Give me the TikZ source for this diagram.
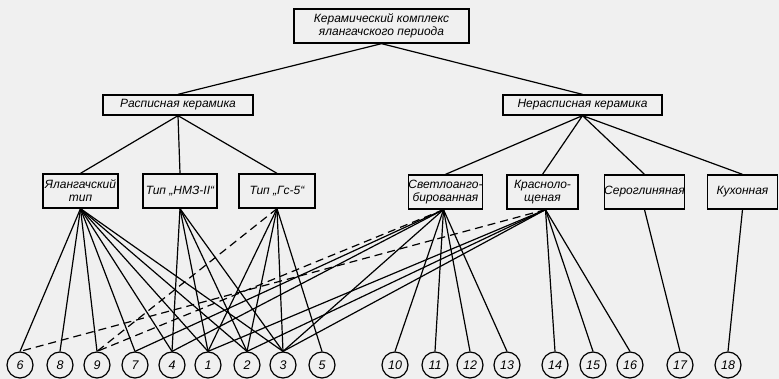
\documentclass[tikz,border=0pt]{standalone}
\usepackage{fontspec}
\setmainfont{Liberation Sans}
\usetikzlibrary{calc}
\tikzset{box/.style={draw, line width=1.3pt, inner sep=0pt, minimum height=34pt, align=center,
		font=\fontsize{12}{13}\selectfont\itshape},
	num/.style={draw, circle, line width=1.2pt, minimum size=26pt, inner sep=0pt,
		font=\fontsize{12.5}{13}\selectfont\itshape},
	link/.style={line width=1.2pt},
	dlink/.style={line width=1.2pt, dash pattern=on 8pt off 5pt}}

\begin{document}
\begin{tikzpicture}[x=1pt, y=-1pt, color=black]
		\fill[gray!12] (0,0) rectangle (779,379);
		\useasboundingbox (0,0) rectangle (779,379);
		\node[box, minimum width=175pt] (top) at (381.5,26) {Керамический комплекс\\ялангачского периода};
		\node[box, minimum width=150pt, minimum height=20pt] (rasp) at (178,105) {Расписная керамика};
		\node[box, minimum width=159pt, minimum height=20pt] (nerasp) at (582.5,105) {Нерасписная керамика};
		\node[box, minimum width=75pt] (yal) at (80.5,191) {Ялангачский\\тип};
		\node[box, minimum width=74pt] (nmz) at (180,191) {Тип „НМЗ-II“};
		\node[box, minimum width=76pt] (gs) at (277,191) {Тип „Гс-5“};
		\node[box, minimum width=73pt] (svet) at (445.5,192) {Светлоанго-\\бированная};
		\node[box, minimum width=71pt] (kras) at (542.5,192) {Красноло-\\щеная};
		\node[box, minimum width=77pt] (sero) at (644.5,192) {Сероглиняная};
		\node[box, minimum width=70pt] (kuh) at (742.5,192) {Кухонная};
		\draw[link] (top.south)--(rasp.north) (top.south)--(nerasp.north);
		\draw[link] (rasp.south)--(yal.north) (rasp.south)--(nmz.north) (rasp.south)--(gs.north);
		\draw[link] (nerasp.south)--(svet.north) (nerasp.south)--(kras.north)
			(nerasp.south)--(sero.north) (nerasp.south)--(kuh.north);
		\foreach \n/\x in {6/20,8/60,9/97,7/135,4/172,1/208,2/247,3/283,5/322,
			10/395,11/435,12/470,13/507,14/555,15/593,16/630,17/680,18/728}
			\node[num] (c\n) at (\x,365) {\n};
		\foreach \n in {6,8,9,7,4,1,2,3} \draw[link] (yal.south)--(c\n.north);
		\foreach \n in {4,1,2,3} \draw[link] (nmz.south)--(c\n.north);
		\foreach \n in {1,2,3,5} \draw[link] (gs.south)--(c\n.north);
		\draw[dlink] (gs.south)--(c9.north);
		\foreach \n in {7,4,3,10,11,12,13} \draw[link] ([xshift=-2pt]svet.south)--(c\n.north);
		\draw[dlink] ([xshift=-2pt]svet.south)--(c9.north);
		\foreach \n in {1,2,3,14,15,16} \draw[link] ([xshift=3pt]kras.south)--(c\n.north);
		\draw[dlink] ([xshift=3pt]kras.south)--(c6.north);
		\draw[link] (sero.south)--(c17.north);
		\draw[link] (kuh.south)--(c18.north);
		\end{tikzpicture}
\end{document}
